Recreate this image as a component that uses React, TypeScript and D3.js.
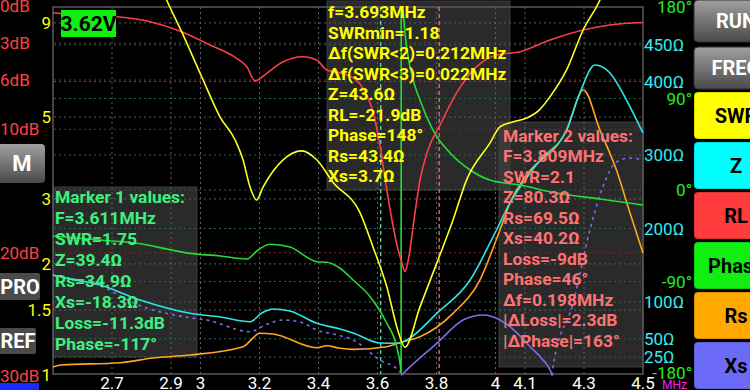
import * as d3 from "d3";
import React from "react";

// axis ticks
const freqTicks = [2.7, 2.9, 3, 3.2, 3.4, 3.6, 3.8, 4, 4.1, 4.3, 4.5];
const swrTicks = [9, 5, 3, 2, 1.5, 1];
const rlTicks = [0, 3, 6, 10, 20, 30];
const phaseTicks = [180, 90, 0, -90, -180];
const ohmTicks = [450, 400, 300, 200, 100, 50, 25];

// SWR trace
const swrFreq = [2.863, 2.885, 2.936, 3.004, 3.066, 3.117, 3.144, 3.168, 3.19, 3.212, 3.28, 3.343, 3.394, 3.449, 3.541, 3.585, 3.632, 3.669, 3.693, 3.744, 3.801, 3.856, 3.902, 3.981, 4.015, 4.058, 4.106, 4.149, 4.185, 4.241, 4.297, 4.354, 4.375];
const swrVal = [11.4, 10.38, 8.52, 6.43, 5.01, 4.34, 3.83, 3.23, 2.98, 3.23, 3.83, 4.05, 3.83, 3.33, 2.75, 2.22, 1.73, 1.32, 1.19, 1.53, 2.01, 2.63, 3.38, 4.25, 4.7, 4.85, 4.97, 5.23, 5.68, 6.71, 8.61, 10.38, 11.4];

// return loss (dB)
const rlFreq = [2.5, 2.608, 2.716, 2.829, 2.936, 3.032, 3.123, 3.157, 3.185, 3.224, 3.28, 3.347, 3.394, 3.428, 3.473, 3.524, 3.558, 3.585, 3.608, 3.629, 3.649, 3.666, 3.682, 3.693, 3.703, 3.727, 3.744, 3.771, 3.812, 3.868, 3.936, 4.004, 4.083, 4.185, 4.297, 4.388, 4.5];
const rlVal = [0.57, 0.73, 0.87, 1.27, 2.08, 3.16, 4.24, 4.92, 6.08, 5.46, 4.52, 4.11, 4.38, 5.19, 5.43, 5.92, 6.97, 8.59, 11.27, 14.51, 17.35, 19.38, 20.76, 21.54, 20.76, 16.78, 14.11, 11.68, 9.65, 7.05, 4.92, 3.97, 3.71, 2.76, 1.95, 1.54, 1.34];

// phase (deg), wraps at resonance
const phaseFreq = [2.5, 2.659, 2.778, 2.964, 3.066, 3.157, 3.195, 3.236, 3.303, 3.394, 3.428, 3.473, 3.517, 3.575, 3.631, 3.665, 3.678, 3.68, 3.6805, 3.686, 3.693, 3.71, 3.744, 3.788, 3.846, 3.914, 3.981, 4.083, 4.207, 4.354, 4.5];
const phaseVal = [-45.2, -49.2, -52.1, -62.3, -64.9, -67.9, -59.0, -53.4, -56.1, -70.5, -71.1, -77.0, -88.5, -104.9, -130.8, -154.1, -173.8, -179.5, 179.5, 177, 154.4, 121, 88.5, 59, 36.4, 19.7, 9.8, 4.9, -3.0, -8.9, -14.8];

// |Z| (ohm)
const zFreq = [2.5, 2.546, 2.659, 2.795, 2.964, 3.066, 3.168, 3.208, 3.246, 3.303, 3.394, 3.473, 3.517, 3.608, 3.665, 3.699, 3.801, 3.914, 3.992, 4.049, 4.151, 4.241, 4.286, 4.337, 4.388, 4.444, 4.5];
const zVal = [136.7, 132.2, 123.1, 102.7, 84.6, 79.6, 73.2, 85.0, 90.5, 87.8, 71.0, 63.3, 57.8, 44.2, 43.8, 48.3, 84.6, 129.9, 188.8, 234.7, 293.2, 334, 384.4, 422.4, 411.6, 374.8, 329.9];

// Rs (ohm)
const rsFreq = [2.5, 2.529, 2.727, 2.839, 2.964, 3.144, 3.202, 3.246, 3.394, 3.428, 3.473, 3.517, 3.631, 3.686, 3.744, 3.856, 3.947, 4.015, 4.049, 4.093, 4.241, 4.298, 4.354, 4.41, 4.456, 4.5];
const rsVal = [11.6, 14.3, 17.4, 23.8, 27.9, 39.2, 57.4, 56.5, 37.8, 40.5, 37.0, 35.6, 39.2, 46.0, 52.8, 84.6, 129.9, 197.9, 234.7, 266, 334, 388.4, 334, 279.6, 221.1, 166.7];

// Xs (ohm), negative drawn dashed
const xsFreq = [2.5, 2.659, 2.795, 2.964, 3.021, 3.168, 3.219, 3.28, 3.337, 3.394, 3.473, 3.517, 3.608, 3.676, 3.68, 3.69, 3.801, 3.89, 3.958, 4.015, 4.049, 4.117, 4.161, 4.188, 4.192, 4.195, 4.263, 4.32, 4.364, 4.411, 4.456, 4.5];
const xsVal = [-136, -122, -95, -78.6, -75.5, -59.6, -68.7, -75.5, -72.8, -61.9, -54.1, -48.3, -21.1, -5.2, 0, 4, 43.8, 75.5, 82.3, 75.5, 66.4, 39.2, 21.1, 4.8, 0, -12, -98.6, -197.9, -256.9, -290.9, -295.9, -293.2];

const marker1Freq = 3.611;
const marker2Freq = 3.809;
const batteryText = "3.62V";

const infoLines = ["f=3.693MHz", "SWRmin=1.18", "Δf(SWR<2)=0.212MHz", "Δf(SWR<3)=0.022MHz", "Z=43.6Ω", "RL=-21.9dB", "Phase=148°", "Rs=43.4Ω", "Xs=3.7Ω"];
const marker1Lines = ["Marker 1 values:", "F=3.611MHz", "SWR=1.75", "Z=39.4Ω", "Rs=34.9Ω", "Xs=-18.3Ω", "Loss=-11.3dB", "Phase=-117°"];
const marker2Lines = ["Marker 2 values:", "F=3.809MHz", "SWR=2.1", "Z=80.3Ω", "Rs=69.5Ω", "Xs=40.2Ω", "Loss=-9dB", "Phase=46°", "Δf=0.198MHz", "|ΔLoss|=2.3dB", "|ΔPhase|=163°"];

const rightButtons = ["RUN", "FREQ", "SWR", "Z", "RL", "Phase", "Rs", "Xs"];
const leftButtons = ["M", "PRO", "REF"];

const FONT = "Roboto, 'Noto Sans', sans-serif";
const buttonFill = {
  RUN: "url(#grayGrad)", FREQ: "url(#grayGrad)", SWR: "#ffff00", Z: "#00ffff",
  RL: "#ff3b3b", Phase: "#11ee11", Rs: "#ffa800", Xs: "#6b6bf7",
};

const W = 750;
const H = 390;

const App = () => {
  const x = d3.scaleLinear().domain([2.5, 4.5]).range([53, 643]);
  const ySwr = d3.scaleLog().domain([1, 10]).range([375, 6]);
  const yRl = d3.scaleLinear().domain([0, 30]).range([6, 376]);
  const yPh = d3.scaleLinear().domain([-180, 180]).range([373, 7]);
  const yOhm = d3.scaleLinear().domain([0, 500]).range([375.5, 8]);

  const makeLine = (ys) =>
    d3.line<[number, number]>()
      .x((d) => x(d[0]))
      .y((d) => ys(d[1]))
      .curve(d3.curveMonotoneX);

  const zip = (fs, vs) => fs.map((f, i) => [f, vs[i]] as [number, number]);

  // split reactance into sign runs
  const xsSegs: { neg: boolean; pts: [number, number][] }[] = [];
  let cur = null;
  let zero = null;
  xsFreq.forEach((f, i) => {
    const v = xsVal[i];
    if (v === 0) {
      if (cur) cur.pts.push([f, 0]);
      cur = null;
      zero = [f, 0];
      return;
    }
    const neg = v < 0;
    if (!cur || cur.neg !== neg) {
      cur = { neg, pts: zero ? [zero] : [] };
      xsSegs.push(cur);
    }
    cur.pts.push([f, Math.abs(v)]);
  });

  const dot = "2,3";
  const gridH = [
    ...rlTicks.filter((v) => v > 0 && v < 30).map((v) => ({ y: yRl(v), c: "#7a2a2a" })),
    ...swrTicks.filter((v) => v > 1).map((v) => ({ y: ySwr(v), c: "#5e5e5e" })),
    ...phaseTicks.filter((v) => Math.abs(v) < 180).map((v) => ({ y: yPh(v), c: "#1d6a3a" })),
    ...ohmTicks.map((v) => ({ y: yOhm(v), c: "#1d6a4a" })),
  ];

  const box = (x0, y0, x1, y1) => (
    <rect x={x0} y={y0} width={x1 - x0} height={y1 - y0} fill="rgba(70,70,70,0.6)" stroke="#3c3c3c" strokeWidth={1} />
  );

  const textBlock = (lines, x0, y0, step, color) =>
    lines.map((t, i) => (
      <text key={t} x={x0} y={y0 + i * step} fill={color} fontSize={17.4} fontWeight="bold" fontFamily={FONT}>
        {t}
      </text>
    ));

  return (
    <svg width={W} height={H} style={{ position: "absolute", left: 0, top: 0, background: "#000", display: "block" }}>
      <defs>
        <linearGradient id="grayGrad" x1="0" y1="0" x2="0" y2="1">
          <stop offset="0" stopColor="#a0a0a0" />
          <stop offset="1" stopColor="#4a4a4a" />
        </linearGradient>
      </defs>
      <rect x={0} y={0} width={W} height={H} fill="#000" />

      {/* boxes behind traces */}
      {box(327, 1, 510, 190)}
      {box(53, 187, 197, 357)}
      {box(499, 122, 643, 367)}

      {/* grid */}
      {gridH.map((g, i) => (
        <line key={"h" + i} x1={54} x2={642} y1={g.y} y2={g.y} stroke={g.c} strokeDasharray={dot} />
      ))}
      {freqTicks.filter((f) => f < 4.5).map((f) => (
        <line key={"v" + f} x1={x(f)} x2={x(f)} y1={7} y2={374} stroke="#5e5e5e" strokeDasharray={dot} />
      ))}
      <rect x={53} y={7} width={590} height={367} fill="none" stroke="#5a5a5a" strokeWidth={1.5} />

      {/* markers */}
      <line x1={x(marker1Freq)} x2={x(marker1Freq)} y1={7} y2={374} stroke="#5ee8b0" strokeWidth={1.2} strokeDasharray="4,3" />
      <line x1={x(marker2Freq)} x2={x(marker2Freq)} y1={7} y2={374} stroke="#ff7878" strokeWidth={1.2} strokeDasharray="4,3" />

      {/* traces */}
      <path d={makeLine(yOhm)(zip(rsFreq, rsVal)) || undefined} fill="none" stroke="#ffa520" strokeWidth={1.6} />
      {xsSegs.map((s, i) => (
        <path key={"xs" + i} d={makeLine(yOhm)(s.pts) || undefined} fill="none" stroke="#7b6cf0" strokeWidth={1.6} strokeDasharray={s.neg ? "3,4" : undefined} />
      ))}
      <path d={makeLine(yOhm)(zip(zFreq, zVal)) || undefined} fill="none" stroke="#2ee6e6" strokeWidth={1.6} />
      <path d={makeLine(yPh)(zip(phaseFreq, phaseVal)) || undefined} fill="none" stroke="#22dd33" strokeWidth={1.6} />
      <path d={makeLine(yRl)(zip(rlFreq, rlVal)) || undefined} fill="none" stroke="#ff3d4a" strokeWidth={1.6} />
      <path d={makeLine(ySwr)(zip(swrFreq, swrVal)) || undefined} fill="none" stroke="#ffff22" strokeWidth={1.6} />

      {/* readouts */}
      {textBlock(infoLines, 328, 18, 20.5, "#ffff00")}
      {textBlock(marker1Lines, 55, 203, 21, "#3ff080")}
      {textBlock(marker2Lines, 503, 141.7, 20.5, "#ff7272")}

      {/* battery */}
      <rect x={61} y={10} width={55} height={27} fill="#11ee11" />
      <text x={88.5} y={31} textAnchor="middle" fill="#000" fontSize={21} fontWeight="bold" fontFamily={FONT}>{batteryText}</text>

      {/* left axis labels */}
      {rlTicks.map((v) => (
        <text key={"rl" + v} x={0} y={yRl(v)} dominantBaseline="central" fill="#ff4040" fontSize={17} fontFamily={FONT}>{`${v}dB`}</text>
      ))}
      {swrTicks.map((v) => (
        <text key={"swr" + v} x={51} y={ySwr(v)} dominantBaseline="central" textAnchor="end" fill="#ffff00" fontSize={17} fontFamily={FONT}>{v}</text>
      ))}

      {/* right axis labels */}
      {ohmTicks.map((v) => (
        <text key={"ohm" + v} x={644} y={yOhm(v)} dominantBaseline="central" fill="#33eeee" fontSize={17} fontFamily={FONT}>{`${v}Ω`}</text>
      ))}
      {phaseTicks.map((v) => (
        <text key={"ph" + v} x={692} y={yPh(v)} dominantBaseline="central" textAnchor="end" fill="#22ee22" fontSize={17} fontFamily={FONT}>{`${v}°`}</text>
      ))}

      {/* bottom axis */}
      {freqTicks.map((f) => (
        <text key={"f" + f} x={x(f)} y={389} textAnchor="middle" fill="#fff" fontSize={17} fontFamily={FONT}>{f}</text>
      ))}
      <text x={662} y={389} fill="#ee22ee" fontSize={12} fontFamily={FONT}>MHz</text>

      {/* left buttons */}
      <rect x={-4} y={144} width={49} height={39} rx={4} fill="url(#grayGrad)" />
      <text x={22} y={171} textAnchor="middle" fill="#fff" fontSize={22} fontWeight="bold" fontFamily={FONT}>{leftButtons[0]}</text>
      <rect x={-4} y={273} width={44} height={27} rx={2} fill="#4a4a4a" />
      <text x={20} y={294} textAnchor="middle" fill="#fff" fontSize={20} fontWeight="bold" fontFamily={FONT}>{leftButtons[1]}</text>
      <rect x={-4} y={328} width={40} height={26} rx={2} fill="#4a4a4a" />
      <text x={18} y={348} textAnchor="middle" fill="#fff" fontSize={20} fontWeight="bold" fontFamily={FONT}>{leftButtons[2]}</text>
      <rect x={0} y={383} width={39} height={7} fill="#1a2aff" />

      {/* right buttons */}
      {rightButtons.map((b, i) => {
        const top = i === 0 ? 0 : i === 1 ? 47 : 92 + (i - 2) * 50;
        const h = i < 2 ? 42 : 47;
        const gray = i < 2;
        return (
          <g key={b}>
            <rect x={694} y={top} width={90} height={h} rx={4} fill={buttonFill[b]} stroke={gray ? "#333" : "rgba(0,0,0,0.25)"} />
            <text x={736} y={top + h / 2} dominantBaseline="central" textAnchor="middle" fill={gray ? "#fff" : "#000"} fontSize={20} fontWeight="bold" fontFamily={FONT}>{b}</text>
          </g>
        );
      })}
    </svg>
  );
};

export default App;
